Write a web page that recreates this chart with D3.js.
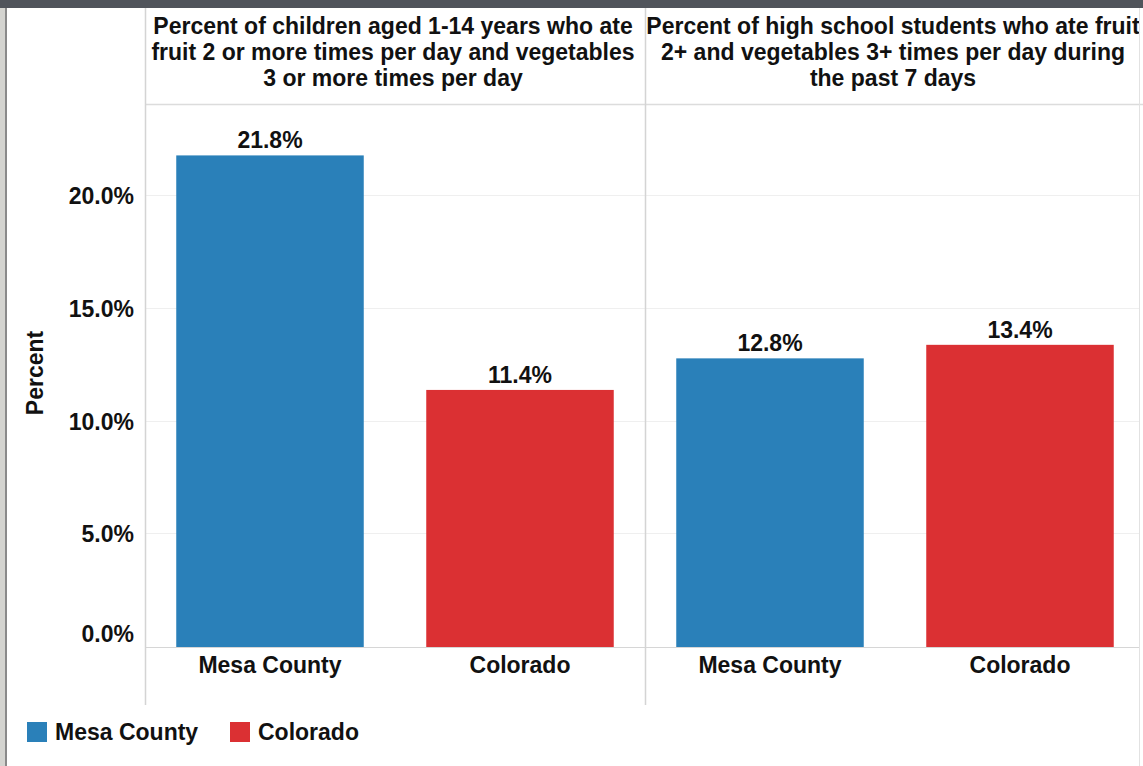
<!DOCTYPE html>
<html><head><meta charset="utf-8">
<script src="https://cdn.jsdelivr.net/npm/d3@7"></script>
<style>html,body{margin:0;padding:0;background:#fff;overflow:hidden}svg{display:block}text{font-family:"Liberation Sans",Arial,sans-serif;font-weight:bold;fill:#111}</style>
</head><body><svg id="c" width="1143" height="766"></svg>
<script>
const panels = [
  ["Percent of children aged 1-14 years who ate", "fruit 2 or more times per day and vegetables", "3 or more times per day"],
  ["Percent of high school students who ate fruit", "2+ and vegetables 3+ times per day during", "the past 7 days"]
];
const categories = ["Mesa County", "Colorado"];
const values = [[21.8, 11.4], [12.8, 13.4]];
const yTicks = [0, 5, 10, 15, 20];
const colors = {"Mesa County": "#2a80b9", "Colorado": "#db3033"};

const svg = d3.select("#c");
const W = 1143, H = 766;
const left = 145, right = 1145, headerTop = 8, plotBottom = 705;
const y0 = 647;
const FS = 23;

svg.append("rect").attr("x",0).attr("y",0).attr("width",W).attr("height",H).attr("fill","#fff");

const px = d3.scaleBand().domain(d3.range(panels.length)).range([left, right]);
const y = d3.scaleLinear().domain([0, 20]).range([y0, 196]);

// gridlines
svg.append("g").selectAll("line").data(yTicks.filter(d=>d>0)).join("line")
  .attr("x1", left).attr("x2", 1139).attr("y1", d=>Math.round(y(d))-0.5).attr("y2", d=>Math.round(y(d))-0.5)
  .attr("stroke", "#efefef").attr("stroke-width", 1);

// y tick labels
svg.append("g").selectAll("text").data(yTicks).join("text")
  .attr("x", 134).attr("y", d => d===0 ? y(d)-5 : y(d)+8)
  .attr("text-anchor","end").attr("font-size", FS)
  .text(d => d3.format(".1f")(d) + "%");

// axis title
svg.append("text").attr("transform","translate(43,373) rotate(-90)")
  .attr("text-anchor","middle").attr("font-size",FS).text("Percent");

panels.forEach((lines, pi) => {
  const x0 = px(pi), bw = px.bandwidth();
  const xc = d3.scaleBand().domain(categories).range([x0, x0 + bw]).paddingInner(0.25).paddingOuter(0.125);
  const g = svg.append("g");
  // header
  const t = g.append("text").attr("text-anchor","middle").attr("font-size",FS);
  lines.forEach((l, i) => t.append("tspan").attr("x", x0 + bw/2 - 2).attr("y", 33.5 + i*26).text(l));
  // bars
  g.selectAll("rect").data(categories).join("rect")
    .attr("x", d => xc(d)).attr("width", xc.bandwidth())
    .attr("y", (d,i) => y(values[pi][i])).attr("height", (d,i) => y0 - y(values[pi][i]))
    .attr("fill", d => colors[d]);
  g.selectAll("text.v").data(categories).join("text").attr("class","v")
    .attr("x", d => xc(d) + xc.bandwidth()/2).attr("y", (d,i) => y(values[pi][i]) - 7)
    .attr("text-anchor","middle").attr("font-size",FS)
    .text((d,i) => d3.format(".1f")(values[pi][i]) + "%");
  g.selectAll("text.c").data(categories).join("text").attr("class","c")
    .attr("x", d => xc(d) + xc.bandwidth()/2).attr("y", 673)
    .attr("text-anchor","middle").attr("font-size",FS).text(d => d);
});

// structure lines
svg.append("line").attr("x1",left).attr("x2",W).attr("y1",104.5).attr("y2",104.5).attr("stroke","#dcdcdc").attr("stroke-width",1.5);
svg.append("line").attr("x1",left).attr("x2",1139).attr("y1",y0+0.5).attr("y2",y0+0.5).attr("stroke","#d6d6d6");
[left, 645].forEach(x => svg.append("line").attr("x1",x+0.5).attr("x2",x+0.5).attr("y1",headerTop).attr("y2",plotBottom).attr("stroke","#d4d4d4").attr("stroke-width",1.5));
svg.append("line").attr("x1",1139.5).attr("x2",1139.5).attr("y1",headerTop).attr("y2",H).attr("stroke","#e2e2e2");

// legend
const lg = svg.append("g");
const legendX = [27, 230];
categories.forEach((c, i) => {
  const gx = legendX[i];
  lg.append("rect").attr("x", gx).attr("y", 722).attr("width", 20).attr("height", 20).attr("fill", colors[c]);
  lg.append("text").attr("x", gx + 28).attr("y", 740).attr("font-size",FS).text(c);
});

// window frame
svg.append("rect").attr("x",0).attr("y",0).attr("width",W).attr("height",8).attr("fill","#50545b");
svg.append("rect").attr("x",0).attr("y",8).attr("width",5).attr("height",H).attr("fill","#d4d4d0");
svg.append("rect").attr("x",5).attr("y",8).attr("width",2).attr("height",H).attr("fill","#8a8a8a");
</script></body></html>
